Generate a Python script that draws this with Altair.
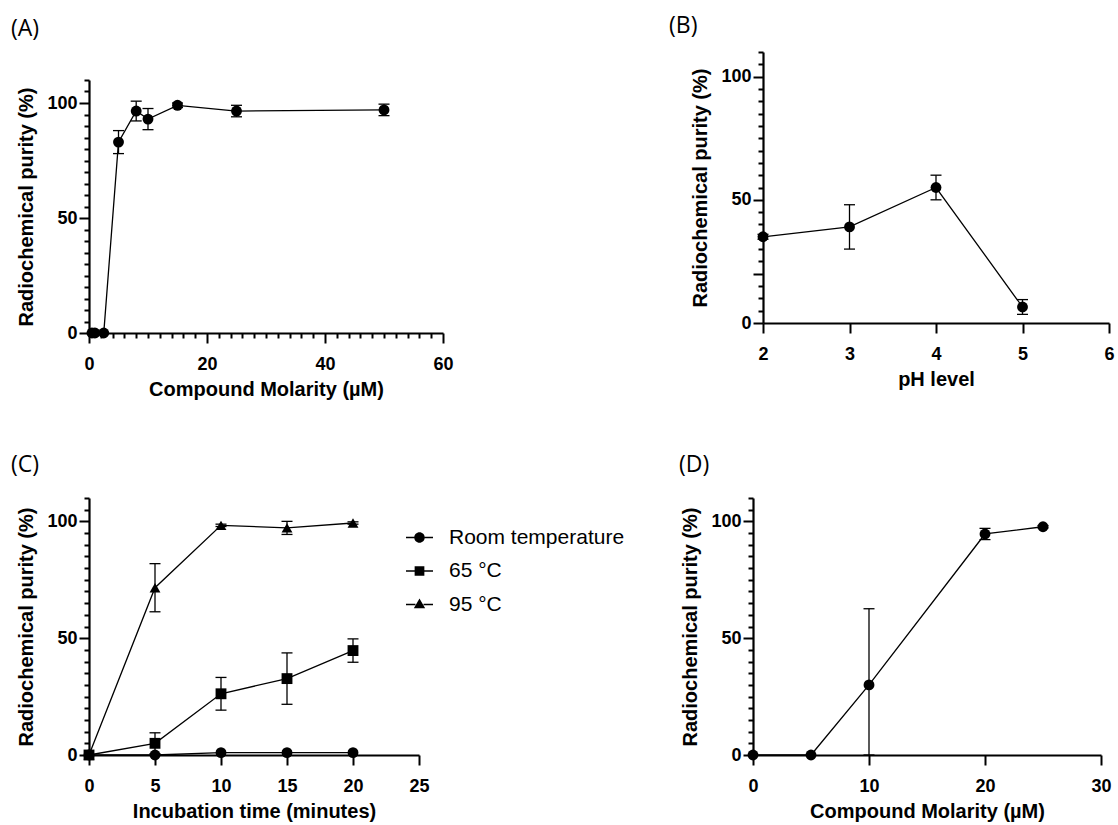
import altair as alt
import pandas as pd

# ---------------- data ----------------
A_X = [0.5, 1, 2.5, 5, 8, 10, 15, 25, 50]
A_Y = [0, 0, 0, 83, 96.5, 93, 99, 96.5, 97]
A_ERR = [0, 0, 0, 5, 4.3, 4.6, 1, 2.5, 2.5]

B_X = [2, 3, 4, 5]
B_Y = [35, 39, 55, 6.5]
B_ERR = [1, 9, 5, 3]

C_SERIES = ["Room temperature", "65 °C", "95 °C"]
C_TIME = [0, 5, 10, 15, 20]
C_ROOM = [0, 0, 1, 1, 1]
C_ROOM_ERR = [0, 0, 0, 0, 0]
C_65 = [0, 5, 26.2, 32.7, 44.7]
C_65_ERR = [0, 4.5, 7, 11, 5]
C_95 = [0, 71.6, 98.3, 97.2, 99.3]
C_95_ERR = [0, 10.3, 0.5, 2.8, 0.5]

D_X = [0, 5, 10, 20, 25]
D_Y = [0, 0, 30, 94.6, 97.7]
D_ERR = [0, 0, 32.6, 2.4, 0.5]

Y_TICKS = list(range(0, 111, 5))
A_X_TICKS = list(range(0, 61, 2))
B_X_TICKS = [2, 3, 4, 5, 6]
C_X_TICKS = [0, 5, 10, 15, 20, 25]
D_X_TICKS = [0, 10, 20, 30]

YTITLE = "Radiochemical purity (%)"
FONT = "Liberation Sans"


def frame(xs, ys, errs, series=""):
    rows = []
    for x, y, e in zip(xs, ys, errs):
        rows.append({"x": x, "y": y, "err": e, "low": max(y - e, 0),
                     "high": y + e, "series": series, "series_leg": series})
    return pd.DataFrame(rows)


def yaxis(offset=0, test="datum.value % 50 === 0"):
    return alt.Axis(values=Y_TICKS, title=YTITLE, offset=offset,
                    labelExpr="datum.value % 50 === 0 ? datum.label : ''",
                    tickSize={"condition": {"test": test, "value": 10}, "value": 5})


def xaxis(values, title, offset=0, test=None):
    kw = dict(values=values, title=title, offset=offset)
    if test is not None:
        kw["labelExpr"] = "%s ? datum.label : ''" % test
        kw["tickSize"] = {"condition": {"test": test, "value": 10}, "value": 5}
    else:
        kw["tickSize"] = 10
    return alt.Axis(**kw)


def panel(df, xs, xa, ys, ya, width, height, title, dx, toff,
          shape_enc=None, multi=False, extra=None):
    base = alt.Chart(df)
    X = alt.X("x:Q", scale=xs, axis=xa)
    Y = alt.Y("y:Q", scale=ys, axis=ya)
    eb = base.transform_filter("datum.err > 0")
    rule = eb.mark_rule(color="black", strokeWidth=1.3).encode(
        x=X, y=alt.Y("low:Q", scale=ys, axis=ya), y2="high:Q")
    cap_lo = eb.mark_tick(orient="horizontal", size=11, thickness=1.3,
                          color="black", opacity=1).encode(
        x=X, y=alt.Y("low:Q", scale=ys, axis=ya))
    cap_hi = eb.mark_tick(orient="horizontal", size=11, thickness=1.3,
                          color="black", opacity=1).encode(
        x=X, y=alt.Y("high:Q", scale=ys, axis=ya))
    if multi:
        line = base.mark_line(color="black", strokeWidth=1.3).encode(
            x=X, y=Y, detail="series:N")
    else:
        line = base.mark_line(color="black", strokeWidth=1.3).encode(x=X, y=Y)
    if shape_enc is not None:
        pts = base.mark_point(filled=True, opacity=1, color="black", size=118).encode(
            x=X, y=Y, shape=shape_enc)
    else:
        pts = base.mark_point(filled=True, opacity=1, color="black", size=118,
                              shape="circle").encode(x=X, y=Y)
    layers = [line, rule, cap_lo, cap_hi, pts]
    if extra is not None:
        layers.append(extra(X, Y))
    ch = alt.layer(*layers).properties(
        width=width, height=height,
        title=alt.TitleParams(text=title, anchor="start", frame="group",
                              dx=dx, offset=toff,
                              font="Open Sans", fontSize=23,
                              fontWeight="normal", color="black"))
    return ch


# ---- A ----
dfA = frame(A_X, A_Y, A_ERR)
chartA = panel(
    dfA,
    alt.Scale(domain=[0, 60], range=[0, 354], nice=False, zero=False),
    xaxis(A_X_TICKS, "Compound Molarity (µM)", test="datum.value % 20 === 0"),
    alt.Scale(domain=[0, 110], range=[281, 28], nice=False),
    yaxis(),
    354, 281, "(A)", -78, 11)

# ---- B ----
dfB = frame(B_X, B_Y, B_ERR)
chartB = panel(
    dfB,
    alt.Scale(domain=[2, 6], range=[0, 346], nice=False, zero=False),
    xaxis(B_X_TICKS, "pH level", offset=-10),
    alt.Scale(domain=[0, 110], range=[271, 0], nice=False),
    yaxis(test="datum.value % 50 === 0 || datum.value === 20"),
    346, 281, "(B)", -94, 5)

# ---- C ----
dfC = pd.concat([frame(C_TIME, C_ROOM, C_ROOM_ERR, C_SERIES[0]),
                 frame(C_TIME, C_65, C_65_ERR, C_SERIES[1]),
                 frame(C_TIME, C_95, C_95_ERR, C_SERIES[2])], ignore_index=True)

LEG_PATHS = [
    "M-1,-0.05H-0.39V0.05H-1Z M0.39,-0.05H1V0.05H0.39Z M-0.39,0A0.39,0.39,0,1,1,0.39,0A0.39,0.39,0,1,1,-0.39,0Z",
    "M-1,-0.05H-0.36V0.05H-1Z M0.36,-0.05H1V0.05H0.36Z M-0.36,-0.36H0.36V0.36H-0.36Z",
    "M-1,-0.05H-0.3V0.05H-1Z M0.3,-0.05H1V0.05H0.3Z M0,-0.45L0.42,0.28H-0.42Z",
]


def legend_layer(X, Y):
    return alt.Chart(dfC).mark_point(filled=True, color="black", opacity=0).encode(
        x=X, y=Y,
        shape=alt.Shape("series_leg:N", title=None,
                        scale=alt.Scale(domain=C_SERIES, range=LEG_PATHS),
                        legend=alt.Legend(orient="none", legendX=317, legendY=26,
                                          symbolSize=729, symbolOpacity=1,
                                          symbolFillColor="black",
                                          symbolStrokeWidth=0,
                                          labelFont=FONT, labelFontSize=21,
                                          labelColor="black", labelOffset=16,
                                          labelLimit=400,
                                          rowPadding=9.5, padding=0)))


chartC = panel(
    dfC,
    alt.Scale(domain=[0, 25], range=[0, 330], nice=False, zero=False),
    xaxis(C_X_TICKS, "Incubation time (minutes)"),
    alt.Scale(domain=[0, 110], nice=False),
    yaxis(),
    354, 257, "(C)", -78, 12,
    shape_enc=alt.Shape("series:N",
                        scale=alt.Scale(domain=C_SERIES,
                                        range=["circle", "square", "triangle-up"]),
                        legend=None),
    multi=True, extra=legend_layer).resolve_scale(shape="independent")

# ---- D ----
dfD = frame(D_X, D_Y, D_ERR)
chartD = panel(
    dfD,
    alt.Scale(domain=[0, 30], range=[-10, 338], nice=False, zero=False),
    xaxis(D_X_TICKS, "Compound Molarity (µM)"),
    alt.Scale(domain=[0, 110], nice=False),
    yaxis(offset=10),
    338, 257, "(D)", -84, 12)

chart = alt.concat(chartA, chartB, chartC, chartD, columns=2,
                   spacing={"row": 165, "column": 320}, bounds="flush").properties(
    padding={"left": 10, "top": 14, "right": 0, "bottom": 0}
).configure_view(stroke="transparent").configure_axis(
    grid=False, domainColor="black", domainWidth=2.2, tickColor="black",
    tickWidth=2, labelFont=FONT, labelFontSize=18, labelFontWeight="bold",
    labelColor="black", titleFont=FONT, titleFontSize=20,
    titleFontWeight="bold", titleColor="black", labelOverlap=False,
    labelFlush=False
).configure_axisX(labelPadding=12, titlePadding=6
).configure_axisY(labelPadding=2, titlePadding=10)

chart.save("out.html", embed_options={"renderer": "svg", "actions": False})
